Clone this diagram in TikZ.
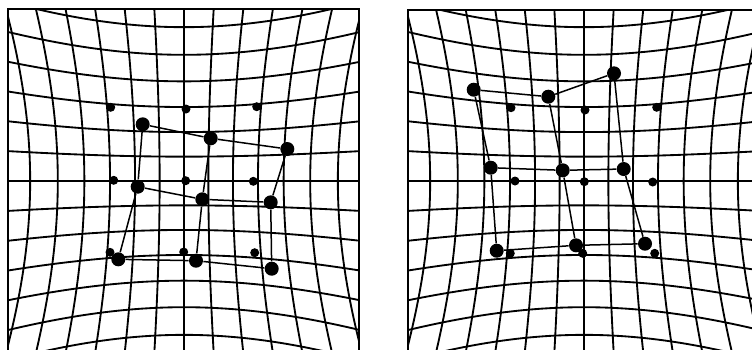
\documentclass[tikz,border=0pt]{standalone}
\usepackage{tikz}
\usetikzlibrary{calc}
\tikzset{
  frame/.style={line width=0.44mm, black},
  gridline/.style={line width=0.37mm, black},
  link/.style={line width=0.3mm, black},
  smalldot/.style={circle, fill=black, inner sep=0pt, minimum size=1.8mm},
  bigdot/.style={circle, fill=black, inner sep=0pt, minimum size=2.8mm}
}

\begin{document}
\begin{tikzpicture}[x=0.2mm, y=-0.2mm,
  declare function={
    warpx(\u,\v)=24.33*\u*(1+0.0015*\u*\u+0.005*\v*\v);
    warpy(\u,\v)=24.33*\v*(1+0.0015*\v*\v+0.005*\u*\u);
  }]
  \useasboundingbox (0,0) rectangle (752,349);
  \clip (0,0) rectangle (752,349);

  % pincushion grids
  \foreach \cx/\cy/\xl/\xr/\yt in {184/181/8/359/9, 584/181/408/759/10}{
    \begin{scope}
      \clip (\xl,\yt) rectangle (\xr,\yt+352);
      \foreach \i in {-7,...,7}{
        \draw[gridline] plot[domain=-7.5:7.5, samples=41, smooth, variable=\t]
          ({\cx+warpx(\i,\t)}, {\cy+warpy(\i,\t)});
        \draw[gridline] plot[domain=-7.5:7.5, samples=41, smooth, variable=\t]
          ({\cx+warpx(\t,\i)}, {\cy+warpy(\t,\i)});
      }
    \end{scope}
    \draw[frame] (\xl,\yt) rectangle (\xr,\yt+352);
  }

  % reference dots
  \foreach \n/\x/\y in {ls11/110.7/107.3, ls12/186/109, ls13/256.7/106.7,
                        ls21/113.7/180.3, ls22/185.7/180.7, ls23/253.3/181.3,
                        ls31/110/252.3, ls32/183.7/252, ls33/254.7/252.7,
                        rs11/511/107.7, rs12/585/110, rs13/656.7/107.3,
                        rs21/515/181, rs22/584.3/181.7, rs23/652.7/182,
                        rs31/510.3/253.3, rs32/582.7/253.3, rs33/654.7/253.3}
    \node[smalldot] (\n) at (\x,\y) {};

  % seen dots, left
  \node[bigdot] (la) at (142.7,124.3) {};
  \node[bigdot] (lb) at (210.7,138.3) {};
  \node[bigdot] (lc) at (287.3,149) {};
  \node[bigdot] (ld) at (137.7,186.7) {};
  \node[bigdot] (le) at (202.3,199.3) {};
  \node[bigdot] (lf) at (270.7,202.3) {};
  \node[bigdot] (lg) at (118.3,259.3) {};
  \node[bigdot] (lh) at (196,260.7) {};
  \node[bigdot] (li) at (271.7,268.7) {};

  % seen dots, right
  \node[bigdot] (ra) at (473.7,89.7) {};
  \node[bigdot] (rb) at (548.3,96.7) {};
  \node[bigdot] (rc) at (614,73.3) {};
  \node[bigdot] (rd) at (490.7,167.7) {};
  \node[bigdot] (re) at (562.7,170.3) {};
  \node[bigdot] (rf) at (623.7,169) {};
  \node[bigdot] (rg) at (496.7,250.7) {};
  \node[bigdot] (rh) at (576,245.3) {};
  \node[bigdot] (ri) at (645,243.7) {};

  \foreach \s in {l,r}{
    \draw[link] (\s a) -- (\s b) -- (\s c);
    \draw[link] (\s d) -- (\s e) -- (\s f);
    \draw[link] (\s g) -- (\s h) -- (\s i);
    \draw[link] (\s a) -- (\s d) -- (\s g);
    \draw[link] (\s b) -- (\s e) -- (\s h);
    \draw[link] (\s c) -- (\s f) -- (\s i);
  }
\end{tikzpicture}
\end{document}
